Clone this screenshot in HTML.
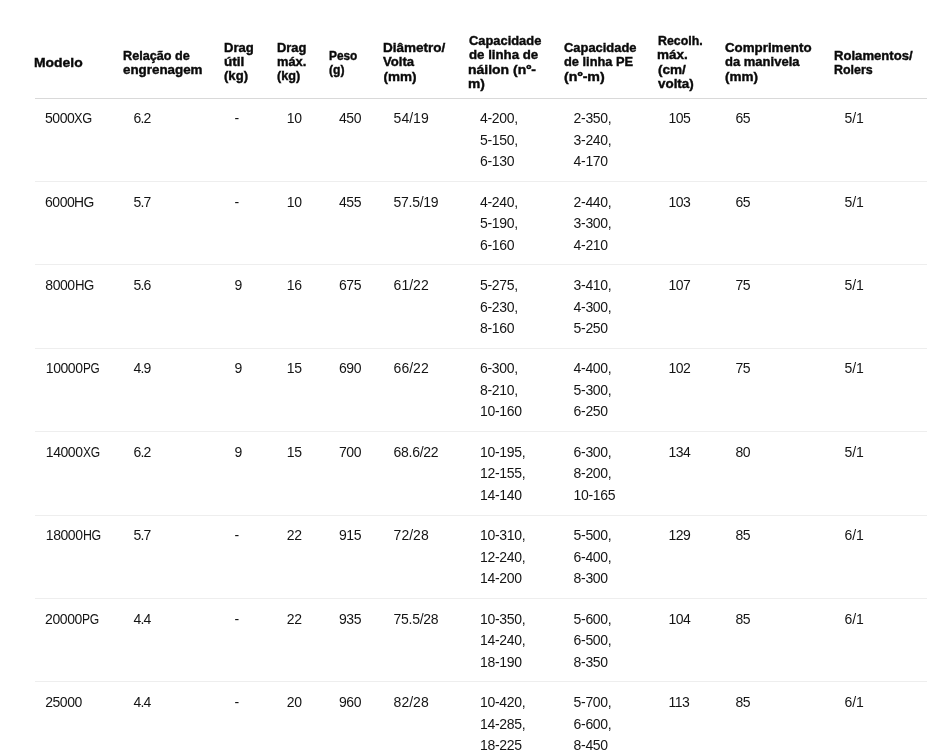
<!DOCTYPE html>
<html lang="pt">
<head>
<meta charset="utf-8">
<title>Especificações</title>
<style>
html,body{margin:0;padding:0;background:#fff;}
body{width:927px;height:753px;overflow:hidden;position:relative;font-family:"Liberation Sans",sans-serif;}
table{position:absolute;left:35px;top:0;border-collapse:separate;border-spacing:0;table-layout:fixed;width:915px;}
th,td{padding:0;margin:0;text-align:left;vertical-align:top;box-sizing:border-box;white-space:nowrap;overflow:visible;}
th{height:99px;border-bottom:1px solid #d9d9d9;font-weight:bold;font-size:13.5px;color:#0a0a0a;-webkit-text-stroke:0.42px #0a0a0a;}
td{border-bottom:1px solid #eeeeee;font-size:14px;color:#141414;}
th span{display:block;height:14px;line-height:14px;position:relative;transform-origin:0 0;}
td span{display:block;height:20px;line-height:20px;position:relative;}
td i{font-style:normal;display:inline-block;transform-origin:0 50%;}
#h0_0{margin-top:56px;left:-0.72px;transform:scaleX(1.029);}
#h1_0{margin-top:49px;left:-0.49px;transform:scaleX(0.937);}
#h1_1{margin-top:0px;left:0.00px;transform:scaleX(0.990);}
#h2_0{margin-top:41px;left:-0.22px;transform:scaleX(0.968);}
#h2_1{margin-top:0px;left:-0.03px;transform:scaleX(1.006);}
#h2_2{margin-top:0px;left:0.46px;transform:scaleX(0.971);}
#h3_0{margin-top:41px;left:-0.20px;transform:scaleX(0.958);}
#h3_1{margin-top:0px;left:-0.20px;transform:scaleX(0.954);}
#h3_2{margin-top:0px;left:-0.20px;transform:scaleX(0.938);}
#h4_0{margin-top:49px;left:-0.49px;transform:scaleX(0.879);}
#h4_1{margin-top:0px;left:0.48px;transform:scaleX(0.902);}
#h5_0{margin-top:41px;left:-0.06px;}
#h5_1{margin-top:0px;left:0.20px;transform:scaleX(0.971);}
#h5_2{margin-top:1px;left:0.57px;}
#h6_0{margin-top:34px;left:0.25px;transform:scaleX(0.954);}
#h6_1{margin-top:0px;left:0.00px;transform:scaleX(0.981);}
#h6_2{margin-top:1px;left:-0.87px;transform:scaleX(1.035);}
#h6_3{margin-top:0px;left:-0.87px;transform:scaleX(1.022);}
#h7_0{margin-top:41px;left:0.58px;transform:scaleX(0.957);}
#h7_1{margin-top:0px;left:0.61px;transform:scaleX(0.950);}
#h7_2{margin-top:1px;left:0.75px;transform:scaleX(1.054);}
#h8_0{margin-top:34px;left:-0.33px;transform:scaleX(0.915);}
#h8_1{margin-top:0px;left:-1.10px;}
#h8_2{margin-top:1px;left:-0.40px;transform:scaleX(1.004);}
#h8_3{margin-top:0px;left:-0.34px;transform:scaleX(0.992);}
#h9_0{margin-top:41px;left:-0.30px;transform:scaleX(0.986);}
#h9_1{margin-top:0px;left:-0.10px;transform:scaleX(0.964);}
#h9_2{margin-top:1px;left:0.12px;}
#h10_0{margin-top:49px;left:-0.49px;transform:scaleX(0.971);}
#h10_1{margin-top:0px;left:-0.49px;transform:scaleX(0.921);}
#r0 td{height:83px;}
#b0_0_0{margin-top:9px;left:9.96px;letter-spacing:-0.440px;}
#b0_0_0 i{transform:scaleX(0.915);}
#b0_1_0{margin-top:9px;left:10.40px;letter-spacing:-0.740px;}
#b0_2_0{margin-top:9px;left:10.60px;letter-spacing:-0.440px;}
#b0_3_0{margin-top:9px;left:9.80px;letter-spacing:-0.440px;}
#b0_4_0{margin-top:9px;left:10.00px;letter-spacing:-0.440px;}
#b0_5_0{margin-top:9px;left:10.60px;letter-spacing:0.010px;}
#b0_6_0{margin-top:9px;left:11.00px;letter-spacing:-0.320px;}
#b0_6_1{margin-top:2px;left:11.00px;letter-spacing:-0.320px;}
#b0_6_2{margin-top:1px;left:11.00px;letter-spacing:-0.320px;}
#b0_7_0{margin-top:9px;left:10.60px;letter-spacing:-0.320px;}
#b0_7_1{margin-top:2px;left:10.60px;letter-spacing:-0.320px;}
#b0_7_2{margin-top:1px;left:10.60px;letter-spacing:-0.320px;}
#b0_8_0{margin-top:9px;left:10.40px;letter-spacing:-0.440px;}
#b0_9_0{margin-top:9px;left:10.40px;letter-spacing:-0.440px;}
#b0_10_0{margin-top:9px;left:10.40px;letter-spacing:0.010px;}
#r1 td{height:83px;}
#b1_0_0{margin-top:10px;left:9.98px;letter-spacing:-0.440px;}
#b1_0_0 i{transform:scaleX(0.991);}
#b1_1_0{margin-top:10px;left:10.40px;letter-spacing:-0.740px;}
#b1_2_0{margin-top:10px;left:10.60px;letter-spacing:-0.440px;}
#b1_3_0{margin-top:10px;left:9.80px;letter-spacing:-0.440px;}
#b1_4_0{margin-top:10px;left:10.00px;letter-spacing:-0.440px;}
#b1_5_0{margin-top:10px;left:10.60px;letter-spacing:-0.290px;}
#b1_6_0{margin-top:10px;left:11.00px;letter-spacing:-0.320px;}
#b1_6_1{margin-top:1px;left:11.00px;letter-spacing:-0.320px;}
#b1_6_2{margin-top:2px;left:11.00px;letter-spacing:-0.320px;}
#b1_7_0{margin-top:10px;left:10.60px;letter-spacing:-0.320px;}
#b1_7_1{margin-top:1px;left:10.60px;letter-spacing:-0.320px;}
#b1_7_2{margin-top:2px;left:10.60px;letter-spacing:-0.320px;}
#b1_8_0{margin-top:10px;left:10.40px;letter-spacing:-0.440px;}
#b1_9_0{margin-top:10px;left:10.40px;letter-spacing:-0.440px;}
#b1_10_0{margin-top:10px;left:10.40px;letter-spacing:0.010px;}
#r2 td{height:84px;}
#b2_0_0{margin-top:10px;left:10.31px;letter-spacing:-0.440px;}
#b2_0_0 i{transform:scaleX(0.941);}
#b2_1_0{margin-top:10px;left:10.40px;letter-spacing:-0.740px;}
#b2_2_0{margin-top:10px;left:10.60px;letter-spacing:-0.440px;}
#b2_3_0{margin-top:10px;left:9.80px;letter-spacing:-0.440px;}
#b2_4_0{margin-top:10px;left:10.00px;letter-spacing:-0.440px;}
#b2_5_0{margin-top:10px;left:10.60px;letter-spacing:0.010px;}
#b2_6_0{margin-top:10px;left:11.00px;letter-spacing:-0.320px;}
#b2_6_1{margin-top:2px;left:11.00px;letter-spacing:-0.320px;}
#b2_6_2{margin-top:1px;left:11.00px;letter-spacing:-0.320px;}
#b2_7_0{margin-top:10px;left:10.60px;letter-spacing:-0.320px;}
#b2_7_1{margin-top:2px;left:10.60px;letter-spacing:-0.320px;}
#b2_7_2{margin-top:1px;left:10.60px;letter-spacing:-0.320px;}
#b2_8_0{margin-top:10px;left:10.40px;letter-spacing:-0.440px;}
#b2_9_0{margin-top:10px;left:10.40px;letter-spacing:-0.440px;}
#b2_10_0{margin-top:10px;left:10.40px;letter-spacing:0.010px;}
#r3 td{height:83px;}
#b3_0_0{margin-top:9px;left:10.83px;letter-spacing:-0.440px;}
#b3_0_0 i{transform:scaleX(0.843);}
#b3_1_0{margin-top:9px;left:10.40px;letter-spacing:-0.740px;}
#b3_2_0{margin-top:9px;left:10.60px;letter-spacing:-0.440px;}
#b3_3_0{margin-top:9px;left:9.80px;letter-spacing:-0.440px;}
#b3_4_0{margin-top:9px;left:10.00px;letter-spacing:-0.440px;}
#b3_5_0{margin-top:9px;left:10.60px;letter-spacing:0.010px;}
#b3_6_0{margin-top:9px;left:11.00px;letter-spacing:-0.320px;}
#b3_6_1{margin-top:2px;left:11.00px;letter-spacing:-0.320px;}
#b3_6_2{margin-top:1px;left:11.00px;letter-spacing:-0.320px;}
#b3_7_0{margin-top:9px;left:10.60px;letter-spacing:-0.320px;}
#b3_7_1{margin-top:2px;left:10.60px;letter-spacing:-0.320px;}
#b3_7_2{margin-top:1px;left:10.60px;letter-spacing:-0.320px;}
#b3_8_0{margin-top:9px;left:10.40px;letter-spacing:-0.440px;}
#b3_9_0{margin-top:9px;left:10.40px;letter-spacing:-0.440px;}
#b3_10_0{margin-top:9px;left:10.40px;letter-spacing:0.010px;}
#r4 td{height:84px;}
#b4_0_0{margin-top:10px;left:10.83px;letter-spacing:-0.440px;}
#b4_0_0 i{transform:scaleX(0.860);}
#b4_1_0{margin-top:10px;left:10.40px;letter-spacing:-0.740px;}
#b4_2_0{margin-top:10px;left:10.60px;letter-spacing:-0.440px;}
#b4_3_0{margin-top:10px;left:9.80px;letter-spacing:-0.440px;}
#b4_4_0{margin-top:10px;left:10.00px;letter-spacing:-0.440px;}
#b4_5_0{margin-top:10px;left:10.60px;letter-spacing:-0.290px;}
#b4_6_0{margin-top:10px;left:11.00px;letter-spacing:-0.320px;}
#b4_6_1{margin-top:1px;left:11.00px;letter-spacing:-0.320px;}
#b4_6_2{margin-top:2px;left:11.00px;letter-spacing:-0.320px;}
#b4_7_0{margin-top:10px;left:10.60px;letter-spacing:-0.320px;}
#b4_7_1{margin-top:1px;left:10.60px;letter-spacing:-0.320px;}
#b4_7_2{margin-top:2px;left:10.60px;letter-spacing:-0.320px;}
#b4_8_0{margin-top:10px;left:10.40px;letter-spacing:-0.440px;}
#b4_9_0{margin-top:10px;left:10.40px;letter-spacing:-0.440px;}
#b4_10_0{margin-top:10px;left:10.40px;letter-spacing:0.010px;}
#r5 td{height:83px;}
#b5_0_0{margin-top:9px;left:10.83px;letter-spacing:-0.440px;}
#b5_0_0 i{transform:scaleX(0.886);}
#b5_1_0{margin-top:9px;left:10.40px;letter-spacing:-0.740px;}
#b5_2_0{margin-top:9px;left:10.60px;letter-spacing:-0.440px;}
#b5_3_0{margin-top:9px;left:9.80px;letter-spacing:-0.440px;}
#b5_4_0{margin-top:9px;left:10.00px;letter-spacing:-0.440px;}
#b5_5_0{margin-top:9px;left:10.60px;letter-spacing:0.010px;}
#b5_6_0{margin-top:9px;left:11.00px;letter-spacing:-0.320px;}
#b5_6_1{margin-top:2px;left:11.00px;letter-spacing:-0.320px;}
#b5_6_2{margin-top:1px;left:11.00px;letter-spacing:-0.320px;}
#b5_7_0{margin-top:9px;left:10.60px;letter-spacing:-0.320px;}
#b5_7_1{margin-top:2px;left:10.60px;letter-spacing:-0.320px;}
#b5_7_2{margin-top:1px;left:10.60px;letter-spacing:-0.320px;}
#b5_8_0{margin-top:9px;left:10.40px;letter-spacing:-0.440px;}
#b5_9_0{margin-top:9px;left:10.40px;letter-spacing:-0.440px;}
#b5_10_0{margin-top:9px;left:10.40px;letter-spacing:0.010px;}
#r6 td{height:83px;}
#b6_0_0{margin-top:10px;left:10.10px;letter-spacing:-0.440px;}
#b6_0_0 i{transform:scaleX(0.865);}
#b6_1_0{margin-top:10px;left:10.40px;letter-spacing:-0.740px;}
#b6_2_0{margin-top:10px;left:10.60px;letter-spacing:-0.440px;}
#b6_3_0{margin-top:10px;left:9.80px;letter-spacing:-0.440px;}
#b6_4_0{margin-top:10px;left:10.00px;letter-spacing:-0.440px;}
#b6_5_0{margin-top:10px;left:10.60px;letter-spacing:-0.290px;}
#b6_6_0{margin-top:10px;left:11.00px;letter-spacing:-0.320px;}
#b6_6_1{margin-top:1px;left:11.00px;letter-spacing:-0.320px;}
#b6_6_2{margin-top:2px;left:11.00px;letter-spacing:-0.320px;}
#b6_7_0{margin-top:10px;left:10.60px;letter-spacing:-0.320px;}
#b6_7_1{margin-top:1px;left:10.60px;letter-spacing:-0.320px;}
#b6_7_2{margin-top:2px;left:10.60px;letter-spacing:-0.320px;}
#b6_8_0{margin-top:10px;left:10.40px;letter-spacing:-0.440px;}
#b6_9_0{margin-top:10px;left:10.40px;letter-spacing:-0.440px;}
#b6_10_0{margin-top:10px;left:10.40px;letter-spacing:0.010px;}
#r7 td{height:84px;}
#b7_0_0{margin-top:10px;left:10.17px;letter-spacing:-0.440px;}
#b7_1_0{margin-top:10px;left:10.40px;letter-spacing:-0.740px;}
#b7_2_0{margin-top:10px;left:10.60px;letter-spacing:-0.440px;}
#b7_3_0{margin-top:10px;left:9.80px;letter-spacing:-0.440px;}
#b7_4_0{margin-top:10px;left:10.00px;letter-spacing:-0.440px;}
#b7_5_0{margin-top:10px;left:10.60px;letter-spacing:0.010px;}
#b7_6_0{margin-top:10px;left:11.00px;letter-spacing:-0.320px;}
#b7_6_1{margin-top:2px;left:11.00px;letter-spacing:-0.320px;}
#b7_6_2{margin-top:1px;left:11.00px;letter-spacing:-0.320px;}
#b7_7_0{margin-top:10px;left:10.60px;letter-spacing:-0.320px;}
#b7_7_1{margin-top:2px;left:10.60px;letter-spacing:-0.320px;}
#b7_7_2{margin-top:1px;left:10.60px;letter-spacing:-0.320px;}
#b7_8_0{margin-top:10px;left:10.40px;letter-spacing:-0.440px;}
#b7_9_0{margin-top:10px;left:10.40px;letter-spacing:-0.440px;}
#b7_10_0{margin-top:10px;left:10.40px;letter-spacing:0.010px;}
</style>
</head>
<body>
<table>
<colgroup><col style="width:88px"><col style="width:101px"><col style="width:53px"><col style="width:52px"><col style="width:54px"><col style="width:86px"><col style="width:94px"><col style="width:95px"><col style="width:67px"><col style="width:109px"><col style="width:116px"></colgroup>
<thead>
<tr>
<th><span id="h0_0">Modelo</span></th>
<th><span id="h1_0">Relação de</span><span id="h1_1">engrenagem</span></th>
<th><span id="h2_0">Drag</span><span id="h2_1">útil</span><span id="h2_2">(kg)</span></th>
<th><span id="h3_0">Drag</span><span id="h3_1">máx.</span><span id="h3_2">(kg)</span></th>
<th><span id="h4_0">Peso</span><span id="h4_1">(g)</span></th>
<th><span id="h5_0">Diâmetro/</span><span id="h5_1">Volta</span><span id="h5_2">(mm)</span></th>
<th><span id="h6_0">Capacidade</span><span id="h6_1">de linha de</span><span id="h6_2">náilon (nº-</span><span id="h6_3">m)</span></th>
<th><span id="h7_0">Capacidade</span><span id="h7_1">de linha PE</span><span id="h7_2">(nº-m)</span></th>
<th><span id="h8_0">Recolh.</span><span id="h8_1">máx.</span><span id="h8_2">(cm/</span><span id="h8_3">volta)</span></th>
<th><span id="h9_0">Comprimento</span><span id="h9_1">da manivela</span><span id="h9_2">(mm)</span></th>
<th><span id="h10_0">Rolamentos/</span><span id="h10_1">Rolers</span></th>
</tr>
</thead>
<tbody>
<tr id="r0"><td><span id="b0_0_0">5000<i id="b0_0_0i">XG</i></span></td><td><span id="b0_1_0">6.2</span></td><td><span id="b0_2_0">-</span></td><td><span id="b0_3_0">10</span></td><td><span id="b0_4_0">450</span></td><td><span id="b0_5_0">54/19</span></td><td><span id="b0_6_0">4-200,</span><span id="b0_6_1">5-150,</span><span id="b0_6_2">6-130</span></td><td><span id="b0_7_0">2-350,</span><span id="b0_7_1">3-240,</span><span id="b0_7_2">4-170</span></td><td><span id="b0_8_0">105</span></td><td><span id="b0_9_0">65</span></td><td><span id="b0_10_0">5/1</span></td></tr>
<tr id="r1"><td><span id="b1_0_0">6000<i id="b1_0_0i">HG</i></span></td><td><span id="b1_1_0">5.7</span></td><td><span id="b1_2_0">-</span></td><td><span id="b1_3_0">10</span></td><td><span id="b1_4_0">455</span></td><td><span id="b1_5_0">57.5/19</span></td><td><span id="b1_6_0">4-240,</span><span id="b1_6_1">5-190,</span><span id="b1_6_2">6-160</span></td><td><span id="b1_7_0">2-440,</span><span id="b1_7_1">3-300,</span><span id="b1_7_2">4-210</span></td><td><span id="b1_8_0">103</span></td><td><span id="b1_9_0">65</span></td><td><span id="b1_10_0">5/1</span></td></tr>
<tr id="r2"><td><span id="b2_0_0">8000<i id="b2_0_0i">HG</i></span></td><td><span id="b2_1_0">5.6</span></td><td><span id="b2_2_0">9</span></td><td><span id="b2_3_0">16</span></td><td><span id="b2_4_0">675</span></td><td><span id="b2_5_0">61/22</span></td><td><span id="b2_6_0">5-275,</span><span id="b2_6_1">6-230,</span><span id="b2_6_2">8-160</span></td><td><span id="b2_7_0">3-410,</span><span id="b2_7_1">4-300,</span><span id="b2_7_2">5-250</span></td><td><span id="b2_8_0">107</span></td><td><span id="b2_9_0">75</span></td><td><span id="b2_10_0">5/1</span></td></tr>
<tr id="r3"><td><span id="b3_0_0">10000<i id="b3_0_0i">PG</i></span></td><td><span id="b3_1_0">4.9</span></td><td><span id="b3_2_0">9</span></td><td><span id="b3_3_0">15</span></td><td><span id="b3_4_0">690</span></td><td><span id="b3_5_0">66/22</span></td><td><span id="b3_6_0">6-300,</span><span id="b3_6_1">8-210,</span><span id="b3_6_2">10-160</span></td><td><span id="b3_7_0">4-400,</span><span id="b3_7_1">5-300,</span><span id="b3_7_2">6-250</span></td><td><span id="b3_8_0">102</span></td><td><span id="b3_9_0">75</span></td><td><span id="b3_10_0">5/1</span></td></tr>
<tr id="r4"><td><span id="b4_0_0">14000<i id="b4_0_0i">XG</i></span></td><td><span id="b4_1_0">6.2</span></td><td><span id="b4_2_0">9</span></td><td><span id="b4_3_0">15</span></td><td><span id="b4_4_0">700</span></td><td><span id="b4_5_0">68.6/22</span></td><td><span id="b4_6_0">10-195,</span><span id="b4_6_1">12-155,</span><span id="b4_6_2">14-140</span></td><td><span id="b4_7_0">6-300,</span><span id="b4_7_1">8-200,</span><span id="b4_7_2">10-165</span></td><td><span id="b4_8_0">134</span></td><td><span id="b4_9_0">80</span></td><td><span id="b4_10_0">5/1</span></td></tr>
<tr id="r5"><td><span id="b5_0_0">18000<i id="b5_0_0i">HG</i></span></td><td><span id="b5_1_0">5.7</span></td><td><span id="b5_2_0">-</span></td><td><span id="b5_3_0">22</span></td><td><span id="b5_4_0">915</span></td><td><span id="b5_5_0">72/28</span></td><td><span id="b5_6_0">10-310,</span><span id="b5_6_1">12-240,</span><span id="b5_6_2">14-200</span></td><td><span id="b5_7_0">5-500,</span><span id="b5_7_1">6-400,</span><span id="b5_7_2">8-300</span></td><td><span id="b5_8_0">129</span></td><td><span id="b5_9_0">85</span></td><td><span id="b5_10_0">6/1</span></td></tr>
<tr id="r6"><td><span id="b6_0_0">20000<i id="b6_0_0i">PG</i></span></td><td><span id="b6_1_0">4.4</span></td><td><span id="b6_2_0">-</span></td><td><span id="b6_3_0">22</span></td><td><span id="b6_4_0">935</span></td><td><span id="b6_5_0">75.5/28</span></td><td><span id="b6_6_0">10-350,</span><span id="b6_6_1">14-240,</span><span id="b6_6_2">18-190</span></td><td><span id="b6_7_0">5-600,</span><span id="b6_7_1">6-500,</span><span id="b6_7_2">8-350</span></td><td><span id="b6_8_0">104</span></td><td><span id="b6_9_0">85</span></td><td><span id="b6_10_0">6/1</span></td></tr>
<tr id="r7"><td><span id="b7_0_0">25000</span></td><td><span id="b7_1_0">4.4</span></td><td><span id="b7_2_0">-</span></td><td><span id="b7_3_0">20</span></td><td><span id="b7_4_0">960</span></td><td><span id="b7_5_0">82/28</span></td><td><span id="b7_6_0">10-420,</span><span id="b7_6_1">14-285,</span><span id="b7_6_2">18-225</span></td><td><span id="b7_7_0">5-700,</span><span id="b7_7_1">6-600,</span><span id="b7_7_2">8-450</span></td><td><span id="b7_8_0">113</span></td><td><span id="b7_9_0">85</span></td><td><span id="b7_10_0">6/1</span></td></tr>
</tbody>
</table>
</body>
</html>
